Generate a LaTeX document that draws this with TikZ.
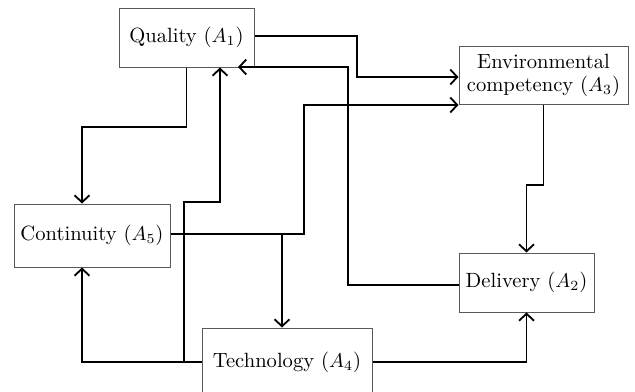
\documentclass[tikz,border=0pt]{standalone}
\usetikzlibrary{arrows.meta}
\begin{document}
\begin{tikzpicture}[x=0.5pt,y=-0.5pt,
  box/.style={draw=black!65, line width=0.5pt, rectangle, inner sep=0pt, align=center, font=\fontsize{10.3}{11.5}\selectfont},
  arr/.style={line width=0.9pt, -{Straight Barb[length=3.5pt,width=7.5pt]}}]
\useasboundingbox (0,0) rectangle (635,391);
\node[box, minimum width=67.5pt, minimum height=29.5pt] (q) at (186.5,37.5) {Quality ($A_1$)};
\node[box, minimum width=84.5pt, minimum height=29pt] (e) at (543.5,75) {Environmental\\competency ($A_3$)};
\node[box, minimum width=78pt, minimum height=31.5pt] (c) at (92,235.5) {Continuity ($A_5$)};
\node[box, minimum width=67.5pt, minimum height=29.5pt] (d) at (526.5,282.5) {Delivery ($A_2$)};
\node[box, minimum width=85pt, minimum height=34pt] (t) at (287,362) {Technology ($A_4$)};
% connectors
\draw[arr] (q.east |- 0,36) -| (357,77) -- (e.west |- 0,77);
\draw[arr] (d.west |- 0,285) -| (348,67) -- (238,67);
\draw[arr] (q.south) |- (82,127) -- (c.north -| 82,0);
\draw[arr] (t.west) -| (c.south -| 82,0);
\draw[arr] (t.west) -- (184,362) |- (220,202) -- (q.south -| 220,0);
\draw[arr] (c.east |- 0,234) -| (304,105) -- (e.west |- 0,105);
\draw[arr] (c.east |- 0,234) -| (t.north -| 282,0);
\draw[arr] (e.south) |- (d.north |- 0,185) -- (d.north);
\draw[arr] (t.east) -| (d.south);
\end{tikzpicture}
\end{document}
